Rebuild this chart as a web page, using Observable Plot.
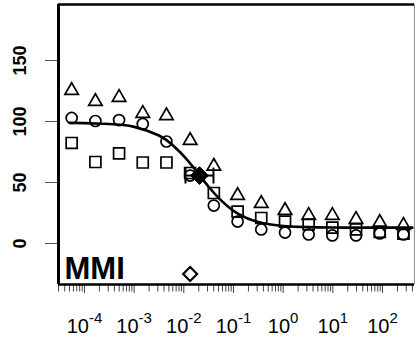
<!DOCTYPE html>
<html><head><meta charset="utf-8">
<script src="https://cdn.jsdelivr.net/npm/d3@7"></script>
<script src="https://cdn.jsdelivr.net/npm/@observablehq/plot@0.6"></script>
<style>html,body{margin:0;padding:0;background:#fff;} svg{display:block;}</style>
</head><body><div id="chart"></div>
<script>
// concentrations (3-fold dilution series)
const conc = [5.52e-5, 1.66e-4, 4.97e-4, 1.49e-3, 4.47e-3, 0.0134, 0.0402, 0.121, 0.362, 1.09, 3.26, 9.78, 29.3, 88, 264];
const triangleY = [125.4, 116.4, 119.7, 106.6, 104.7, 84.4, 63.3, 39.3, 32.8, 27.0, 23.0, 23.0, 19.7, 17.2, 14.8];
const circleY   = [102.9, 100.4, 101.2, 98.0, 83.6, 55.7, 31.1, 18.0, 11.5, 9.0, 7.4, 6.6, 6.6, 8.2, 7.4];
const squareY   = [82.4, 66.8, 73.8, 66.4, 66.4, 57.8, 41.4, 26.2, 20.9, 18.0, 15.6, 13.0, 11.5, 9.5, 8.0];
// fitted curve
const curveLogX = [-4.3, -4, -3.5, -3, -2.5, -2.25, -2, -1.75, -1.5, -1.25, -1, -0.75, -0.5, -0.25, 0, 0.5, 1, 1.5, 2, 2.6];
const curveY    = [98.9, 98.7, 97.9, 95.6, 88.5, 81.5, 71.6, 59.4, 46.5, 35.3, 26.8, 21.1, 17.6, 15.6, 14.4, 13.4, 13.1, 13.0, 13.0, 13.0];
// EC50 and its interval
const ec50X = [0.0207];
const ec50Y = [55.7];
const ciLow = [0.0108];
const ciHigh = [0.0395];
// open diamond
const outlierX = [0.0134];
const outlierY = [-25];
const panelLabel = ["MMI"];
const yTicks = [0, 50, 100, 150];
const xExponents = [-4, -3, -2, -1, 0, 1, 2];
const minorMultipliers = [2, 3, 4, 5, 6, 7, 8, 9];
const xDomain = [Math.pow(10, -4.523), Math.pow(10, 2.644)];
const yDomain = [-33.6, 195.9];

const points = conc.map((c, i) => ({c, tri: triangleY[i], cir: circleY[i], sq: squareY[i]}));
const curve = curveLogX.map((lx, i) => ({x: Math.pow(10, lx), y: curveY[i]}));
const majorTicks = xExponents.map(e => Math.pow(10, e));
const minorTicks = [];
for (let e = -5; e <= 2; e++) for (const m of minorMultipliers) {
  const v = m * Math.pow(10, e);
  if (v >= xDomain[0] && v <= xDomain[1]) minorTicks.push(v);
}
const ci = ciLow.map((l, i) => ({x1: l, x2: ciHigh[i], y: ec50Y[i]}));
const caps = ci.flatMap(d => [{x: d.x1, y: d.y}, {x: d.x2, y: d.y}]);
const ecPts = ec50X.map((x, i) => ({x, y: ec50Y[i]}));
const outPts = outlierX.map((x, i) => ({x, y: outlierY[i]}));
const vbar = {draw(ctx, size) { const h = Math.sqrt(size / Math.PI); ctx.moveTo(0, -h); ctx.lineTo(0, h); }};

const svg = Plot.plot({
  width: 415, height: 338,
  marginLeft: 58, marginRight: 1, marginTop: 4, marginBottom: 54,
  style: {fontFamily: "Liberation Sans, Arial, sans-serif", background: "white", color: "black"},
  x: {type: "log", domain: xDomain},
  y: {domain: yDomain},
  marks: [
    Plot.dot(points, {x: "c", y: "sq", symbol: "square", r: 6.2, stroke: "black", fill: "none", strokeWidth: 1.7}),
    Plot.dot(points, {x: "c", y: "cir", symbol: "circle", r: 5.5, stroke: "black", fill: "none", strokeWidth: 1.7}),
    Plot.dot(points, {x: "c", y: "tri", symbol: "triangle", r: 5, stroke: "black", fill: "none", strokeWidth: 1.7}),
    Plot.line(curve, {x: "x", y: "y", curve: "natural", stroke: "black", strokeWidth: 2.6}),
    Plot.ruleY(ci, {y: "y", x1: "x1", x2: "x2", stroke: "black", strokeWidth: 2}),
    Plot.dot(caps, {x: "x", y: "y", symbol: vbar, r: 8, stroke: "black", strokeWidth: 2}),
    Plot.dot(ecPts, {x: "x", y: "y", symbol: "diamond2", r: 8, fill: "black", stroke: "black", strokeWidth: 1}),
    Plot.dot(outPts, {x: "x", y: "y", symbol: "diamond2", r: 6.3, fill: "white", stroke: "black", strokeWidth: 2.2}),
    Plot.text(panelLabel, {text: d => d, frameAnchor: "bottom-left", textAnchor: "start", lineAnchor: "bottom", dx: 6, dy: -6, fontSize: 31, fontWeight: "bold", fill: "black"}),
    Plot.axisY(yTicks, {tickSize: 13, tickPadding: 20, tickRotate: -90, fontSize: 18, stroke: "#555", fill: "black", label: null}),
    Plot.axisX(minorTicks, {tickSize: 7.5, tickFormat: () => "", stroke: "#444", label: null}),
    Plot.axisX(majorTicks, {tickSize: 9, tickFormat: () => "", stroke: "#444", label: null}),
    Plot.text(xExponents, {x: d => Math.pow(10, d), text: d => String(d), frameAnchor: "bottom", lineAnchor: "bottom", dy: 48, fontSize: 20, fill: "black"}),
    Plot.ruleY([yDomain[1]], {stroke: "black", strokeWidth: 2.6}),
    Plot.ruleY([yDomain[0]], {stroke: "black", strokeWidth: 2.6}),
    Plot.ruleX([xDomain[0]], {stroke: "black", strokeWidth: 3}),
    Plot.ruleX([xDomain[1]], {stroke: "#999", strokeWidth: 1.2})
  ]
});
const root = d3.select(svg);
root.selectAll('g[aria-label="text"] text').each(function() {
  const e = this.textContent;
  if (!/^-?\d+$/.test(e)) return;
  this.textContent = "";
  const s = d3.select(this);
  s.append("tspan").text("10");
  s.append("tspan").attr("dy", -10).attr("font-size", 15).text(e);
});
root.selectAll('g[aria-label="y-axis tick label"] text').style("font-weight", "bold");
document.getElementById("chart").appendChild(svg);
</script>
</body></html>
